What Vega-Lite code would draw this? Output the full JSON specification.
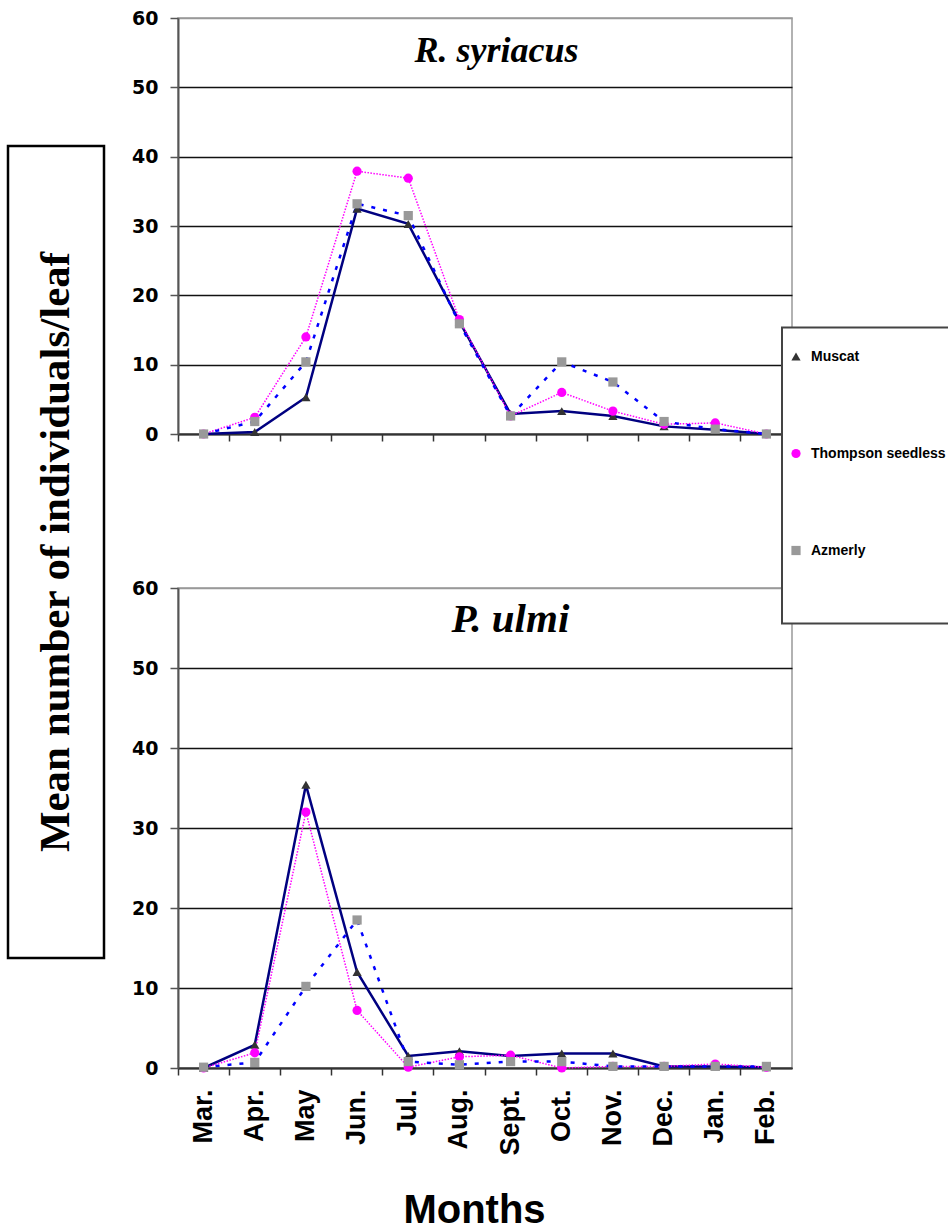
{
  "$schema": "https://vega.github.io/schema/vega-lite/v6.json",
  "background": "white",
  "padding": {"left": 6, "top": 8, "right": 0, "bottom": 0},
  "config": {
    "view": {"stroke": "#999", "strokeWidth": 1.5},
    "font": "Liberation Sans",
    "axisY": {
      "title": null,
      "grid": true,
      "gridColor": {"condition": {"test": "datum.value >= 60", "value": "#999"}, "value": "#111"},
      "gridWidth": 1.3,
      "domainColor": "#555",
      "domainWidth": 2,
      "tickColor": "#555",
      "tickSize": 8,
      "tickWidth": 1.5,
      "labelFont": "DejaVu Sans",
      "labelFontWeight": "bold",
      "labelFontSize": 19,
      "labelColor": "#000",
      "labelPadding": 12
    },
    "axisX": {
      "grid": false,
      "domainColor": "#333",
      "domainWidth": 2,
      "tickColor": "#333",
      "tickSize": 7,
      "tickWidth": 1.5,
      "bandPosition": 0
    },
    "legend": {
      "orient": "none",
      "legendX": 774,
      "legendY": 309.5,
      "strokeColor": "#444",
      "strokeWidth": 2,
      "fillColor": "white",
      "padding": 22,
      "symbolOffset": -15,
      "rowPadding": 83,
      "labelFont": "Liberation Sans",
      "labelFontWeight": "bold",
      "labelFontSize": 14,
      "labelColor": "#000",
      "labelOffset": 8,
      "labelLimit": 300,
      "symbolSize": 85,
      "symbolStrokeWidth": 0,
      "titleOrient": "bottom",
      "titlePadding": 34,
      "titleFontSize": 10
    }
  },
  "datasets": {
    "counts": [
      {"panel": "R. syriacus", "variety": "Muscat", "month": "Mar.", "value": 0},
      {"panel": "R. syriacus", "variety": "Muscat", "month": "Apr.", "value": 0.3},
      {"panel": "R. syriacus", "variety": "Muscat", "month": "May", "value": 5.3},
      {"panel": "R. syriacus", "variety": "Muscat", "month": "Jun.", "value": 32.5},
      {"panel": "R. syriacus", "variety": "Muscat", "month": "Jul.", "value": 30.3},
      {"panel": "R. syriacus", "variety": "Muscat", "month": "Aug.", "value": 16.2},
      {"panel": "R. syriacus", "variety": "Muscat", "month": "Sept.", "value": 2.9},
      {"panel": "R. syriacus", "variety": "Muscat", "month": "Oct.", "value": 3.3},
      {"panel": "R. syriacus", "variety": "Muscat", "month": "Nov.", "value": 2.6},
      {"panel": "R. syriacus", "variety": "Muscat", "month": "Dec.", "value": 1.1},
      {"panel": "R. syriacus", "variety": "Muscat", "month": "Jan.", "value": 0.6},
      {"panel": "R. syriacus", "variety": "Muscat", "month": "Feb.", "value": 0},
      {"panel": "R. syriacus", "variety": "Thompson seedless", "month": "Mar.", "value": 0},
      {"panel": "R. syriacus", "variety": "Thompson seedless", "month": "Apr.", "value": 2.4},
      {"panel": "R. syriacus", "variety": "Thompson seedless", "month": "May", "value": 14.0},
      {"panel": "R. syriacus", "variety": "Thompson seedless", "month": "Jun.", "value": 37.9},
      {"panel": "R. syriacus", "variety": "Thompson seedless", "month": "Jul.", "value": 36.9},
      {"panel": "R. syriacus", "variety": "Thompson seedless", "month": "Aug.", "value": 16.5},
      {"panel": "R. syriacus", "variety": "Thompson seedless", "month": "Sept.", "value": 2.6},
      {"panel": "R. syriacus", "variety": "Thompson seedless", "month": "Oct.", "value": 6.0},
      {"panel": "R. syriacus", "variety": "Thompson seedless", "month": "Nov.", "value": 3.3},
      {"panel": "R. syriacus", "variety": "Thompson seedless", "month": "Dec.", "value": 1.4},
      {"panel": "R. syriacus", "variety": "Thompson seedless", "month": "Jan.", "value": 1.6},
      {"panel": "R. syriacus", "variety": "Thompson seedless", "month": "Feb.", "value": 0},
      {"panel": "R. syriacus", "variety": "Azmerly", "month": "Mar.", "value": 0},
      {"panel": "R. syriacus", "variety": "Azmerly", "month": "Apr.", "value": 1.8},
      {"panel": "R. syriacus", "variety": "Azmerly", "month": "May", "value": 10.4},
      {"panel": "R. syriacus", "variety": "Azmerly", "month": "Jun.", "value": 33.2},
      {"panel": "R. syriacus", "variety": "Azmerly", "month": "Jul.", "value": 31.5},
      {"panel": "R. syriacus", "variety": "Azmerly", "month": "Aug.", "value": 15.9},
      {"panel": "R. syriacus", "variety": "Azmerly", "month": "Sept.", "value": 2.6},
      {"panel": "R. syriacus", "variety": "Azmerly", "month": "Oct.", "value": 10.4},
      {"panel": "R. syriacus", "variety": "Azmerly", "month": "Nov.", "value": 7.5},
      {"panel": "R. syriacus", "variety": "Azmerly", "month": "Dec.", "value": 1.8},
      {"panel": "R. syriacus", "variety": "Azmerly", "month": "Jan.", "value": 0.7},
      {"panel": "R. syriacus", "variety": "Azmerly", "month": "Feb.", "value": 0},
      {"panel": "P. ulmi", "variety": "Muscat", "month": "Mar.", "value": 0},
      {"panel": "P. ulmi", "variety": "Muscat", "month": "Apr.", "value": 2.9},
      {"panel": "P. ulmi", "variety": "Muscat", "month": "May", "value": 35.4},
      {"panel": "P. ulmi", "variety": "Muscat", "month": "Jun.", "value": 12.0},
      {"panel": "P. ulmi", "variety": "Muscat", "month": "Jul.", "value": 1.5},
      {"panel": "P. ulmi", "variety": "Muscat", "month": "Aug.", "value": 2.1},
      {"panel": "P. ulmi", "variety": "Muscat", "month": "Sept.", "value": 1.5},
      {"panel": "P. ulmi", "variety": "Muscat", "month": "Oct.", "value": 1.8},
      {"panel": "P. ulmi", "variety": "Muscat", "month": "Nov.", "value": 1.8},
      {"panel": "P. ulmi", "variety": "Muscat", "month": "Dec.", "value": 0.2},
      {"panel": "P. ulmi", "variety": "Muscat", "month": "Jan.", "value": 0.2},
      {"panel": "P. ulmi", "variety": "Muscat", "month": "Feb.", "value": 0.1},
      {"panel": "P. ulmi", "variety": "Thompson seedless", "month": "Mar.", "value": 0},
      {"panel": "P. ulmi", "variety": "Thompson seedless", "month": "Apr.", "value": 1.9},
      {"panel": "P. ulmi", "variety": "Thompson seedless", "month": "May", "value": 32.0},
      {"panel": "P. ulmi", "variety": "Thompson seedless", "month": "Jun.", "value": 7.2},
      {"panel": "P. ulmi", "variety": "Thompson seedless", "month": "Jul.", "value": 0.1},
      {"panel": "P. ulmi", "variety": "Thompson seedless", "month": "Aug.", "value": 1.4},
      {"panel": "P. ulmi", "variety": "Thompson seedless", "month": "Sept.", "value": 1.6},
      {"panel": "P. ulmi", "variety": "Thompson seedless", "month": "Oct.", "value": 0.0},
      {"panel": "P. ulmi", "variety": "Thompson seedless", "month": "Nov.", "value": 0.2},
      {"panel": "P. ulmi", "variety": "Thompson seedless", "month": "Dec.", "value": 0.2},
      {"panel": "P. ulmi", "variety": "Thompson seedless", "month": "Jan.", "value": 0.5},
      {"panel": "P. ulmi", "variety": "Thompson seedless", "month": "Feb.", "value": 0.1},
      {"panel": "P. ulmi", "variety": "Azmerly", "month": "Mar.", "value": 0.1},
      {"panel": "P. ulmi", "variety": "Azmerly", "month": "Apr.", "value": 0.7},
      {"panel": "P. ulmi", "variety": "Azmerly", "month": "May", "value": 10.2},
      {"panel": "P. ulmi", "variety": "Azmerly", "month": "Jun.", "value": 18.5},
      {"panel": "P. ulmi", "variety": "Azmerly", "month": "Jul.", "value": 0.8},
      {"panel": "P. ulmi", "variety": "Azmerly", "month": "Aug.", "value": 0.4},
      {"panel": "P. ulmi", "variety": "Azmerly", "month": "Sept.", "value": 0.8},
      {"panel": "P. ulmi", "variety": "Azmerly", "month": "Oct.", "value": 0.8},
      {"panel": "P. ulmi", "variety": "Azmerly", "month": "Nov.", "value": 0.2},
      {"panel": "P. ulmi", "variety": "Azmerly", "month": "Dec.", "value": 0.2},
      {"panel": "P. ulmi", "variety": "Azmerly", "month": "Jan.", "value": 0.2},
      {"panel": "P. ulmi", "variety": "Azmerly", "month": "Feb.", "value": 0.2}
    ]
  },
  "spacing": 24,
  "hconcat": [
    {
      "spacing": 28,
      "bounds": "flush",
      "vconcat": [
        {
          "width": 96,
          "height": 100,
          "view": {"stroke": null, "fill": null},
          "data": {"values": [{"label": ""}]},
          "mark": {"type": "text"},
          "encoding": {"text": {"field": "label", "type": "nominal"}}
        },
        {
          "width": 96,
          "height": 812,
          "view": {"stroke": "#000", "strokeWidth": 2.5, "fill": "white"},
          "data": {"values": [{"label": "Mean number of individuals/leaf"}]},
          "mark": {"type": "text", "angle": 270, "font": "Liberation Serif", "fontWeight": "bold", "fontSize": 43, "align": "center", "baseline": "middle", "color": "#000"},
          "encoding": {"text": {"field": "label", "type": "nominal"}}
        }
      ]
    },
    {
      "spacing": 154,
      "bounds": "flush",
      "vconcat": [
        {
          "width": 614,
          "height": 416,
          "data": {"name": "counts"},
          "transform": [{"filter": "datum.panel == 'R. syriacus'"}],
          "encoding": {
            "x": {"field": "month", "type": "ordinal", "sort": ["Mar.", "Apr.", "May", "Jun.", "Jul.", "Aug.", "Sept.", "Oct.", "Nov.", "Dec.", "Jan.", "Feb."], "scale": {"type": "band", "paddingInner": 0, "paddingOuter": 0}, "axis": {"labels": false, "title": null}},
            "y": {"field": "value", "type": "quantitative", "scale": {"domain": [0, 60]}, "axis": {"values": [0, 10, 20, 30, 40, 50, 60]}}
          },
          "layer": [
            {"transform": [{"filter": "datum.variety == 'Muscat'"}], "mark": {"type": "line", "color": "#000080", "strokeWidth": 2.5}},
            {"transform": [{"filter": "datum.variety == 'Thompson seedless'"}], "mark": {"type": "line", "color": "#FF00FF", "strokeWidth": 1.5, "strokeDash": [1.5, 1.5]}},
            {"transform": [{"filter": "datum.variety == 'Azmerly'"}], "mark": {"type": "line", "color": "#0000FF", "strokeWidth": 2.5, "strokeDash": [4, 8]}},
            {
              "mark": {"type": "point", "filled": true, "opacity": 1, "size": 85, "strokeWidth": 0},
              "encoding": {
                "fill": {"field": "variety", "type": "nominal", "scale": {"domain": ["Muscat", "Thompson seedless", "Azmerly"], "range": ["#333333", "#FF00FF", "#999999"]}, "legend": {"title": " "}},
                "shape": {"field": "variety", "type": "nominal", "scale": {"domain": ["Muscat", "Thompson seedless", "Azmerly"], "range": ["triangle-up", "circle", "square"]}, "legend": {"title": " "}}
              }
            },
            {
              "transform": [{"filter": "datum.variety == 'Muscat' && datum.month == 'Aug.'"}],
              "mark": {"type": "text", "text": "R. syriacus", "font": "Liberation Serif", "fontStyle": "italic", "fontWeight": "bold", "fontSize": 36, "align": "center", "baseline": "alphabetic", "dx": 37, "color": "#000"},
              "encoding": {
                "y": {"datum": 53.65, "type": "quantitative"}
              }
            }
          ]
        },
        {
          "width": 614,
          "height": 480,
          "data": {"name": "counts"},
          "transform": [{"filter": "datum.panel == 'P. ulmi'"}],
          "encoding": {
            "x": {"field": "month", "type": "ordinal", "sort": ["Mar.", "Apr.", "May", "Jun.", "Jul.", "Aug.", "Sept.", "Oct.", "Nov.", "Dec.", "Jan.", "Feb."], "scale": {"type": "band", "paddingInner": 0, "paddingOuter": 0}, "axis": {"labelAngle": -90, "labelAlign": "right", "labelBaseline": "middle", "labelPadding": 14, "labelFont": "Liberation Sans", "labelFontWeight": "bold", "labelFontSize": 27, "labelColor": "#000", "title": "Months", "titleFont": "Liberation Sans", "titleFontWeight": "bold", "titleFontSize": 40, "titleColor": "#000", "titleX": 296, "titleY": 154, "titleBaseline": "alphabetic", "titleAlign": "center"}},
            "y": {"field": "value", "type": "quantitative", "scale": {"domain": [0, 60]}, "axis": {"values": [0, 10, 20, 30, 40, 50, 60]}}
          },
          "layer": [
            {"transform": [{"filter": "datum.variety == 'Muscat'"}], "mark": {"type": "line", "color": "#000080", "strokeWidth": 2.5}},
            {"transform": [{"filter": "datum.variety == 'Thompson seedless'"}], "mark": {"type": "line", "color": "#FF00FF", "strokeWidth": 1.5, "strokeDash": [1.5, 1.5]}},
            {"transform": [{"filter": "datum.variety == 'Azmerly'"}], "mark": {"type": "line", "color": "#0000FF", "strokeWidth": 2.5, "strokeDash": [4, 8]}},
            {
              "mark": {"type": "point", "filled": true, "opacity": 1, "size": 85, "strokeWidth": 0},
              "encoding": {
                "fill": {"field": "variety", "type": "nominal", "scale": {"domain": ["Muscat", "Thompson seedless", "Azmerly"], "range": ["#333333", "#FF00FF", "#999999"]}, "legend": {"title": " "}},
                "shape": {"field": "variety", "type": "nominal", "scale": {"domain": ["Muscat", "Thompson seedless", "Azmerly"], "range": ["triangle-up", "circle", "square"]}, "legend": {"title": " "}}
              }
            },
            {
              "transform": [{"filter": "datum.variety == 'Muscat' && datum.month == 'Aug.'"}],
              "mark": {"type": "text", "text": "P. ulmi", "font": "Liberation Serif", "fontStyle": "italic", "fontWeight": "bold", "fontSize": 41, "align": "center", "baseline": "alphabetic", "dx": 51, "color": "#000"},
              "encoding": {
                "y": {"datum": 54.5, "type": "quantitative"}
              }
            }
          ]
        }
      ]
    }
  ]
}
